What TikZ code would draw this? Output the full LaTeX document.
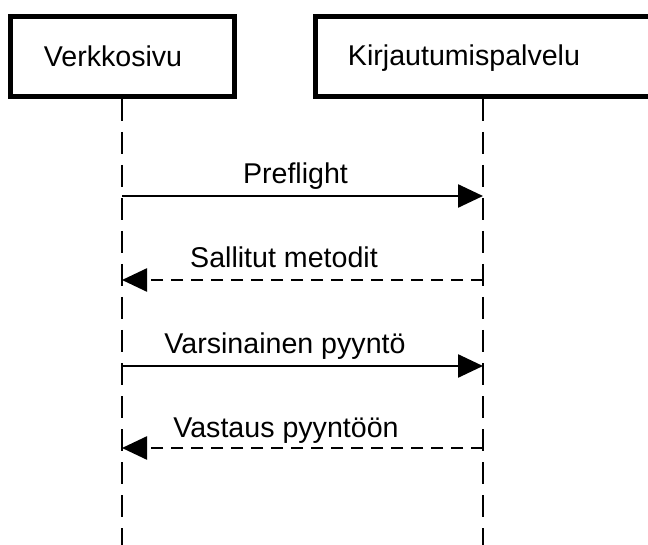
\documentclass[tikz,border=0pt]{standalone}
\usepackage{fontspec}
\setmainfont{Liberation Sans}
\usetikzlibrary{arrows.meta}
\begin{document}
\begin{tikzpicture}[x=1pt,y=-1pt,
  actor/.style={draw=black,line width=5pt,minimum width=224pt,minimum height=80pt,inner sep=0pt,outer sep=0pt},
  lbl/.style={anchor=base,inner sep=0pt,font=\fontsize{28.6}{34}\selectfont},
  life/.style={line width=2.5pt,dash pattern=on 22pt off 11pt},
  msg/.style={line width=2.5pt,-{Triangle[length=25pt,width=23pt]}},
  reply/.style={msg,dash pattern=on 12pt off 8pt}]
\useasboundingbox (0,0) rectangle (648,545);
\clip (0,0) rectangle (648,545);
\node[actor] (lb) at (122.5,56.5) {};
\node[actor,minimum width=336pt] (rb) at (483,56.5) {};
\node[lbl] (lt) at (113,67) {Verkkosivu};
\node[lbl] (rt) at (464,66) {Kirjautumispalvelu};
\coordinate (le) at (122,548);
\coordinate (re) at (483,548);
\draw[life] (122,99) -- (le);
\draw[life] (483,99) -- (re);
\coordinate (a1) at (122,196); \coordinate (b1) at (483,196);
\coordinate (a2) at (122,280); \coordinate (b2) at (483,280);
\coordinate (a3) at (122,366); \coordinate (b3) at (483,366);
\coordinate (a4) at (122,448); \coordinate (b4) at (483,448);
\draw[msg] (a1) -- (b1);
\draw[reply] (b2) -- (a2);
\draw[msg] (a3) -- (b3);
\draw[reply] (b4) -- (a4);
\node[lbl] (m1) at (295.5,184) {Preflight};
\node[lbl] (m2) at (284,268) {Sallitut metodit};
\node[lbl] (m3) at (285,353) {Varsinainen pyyntö};
\node[lbl] (m4) at (286,437) {Vastaus pyyntöön};
\end{tikzpicture}
\end{document}
